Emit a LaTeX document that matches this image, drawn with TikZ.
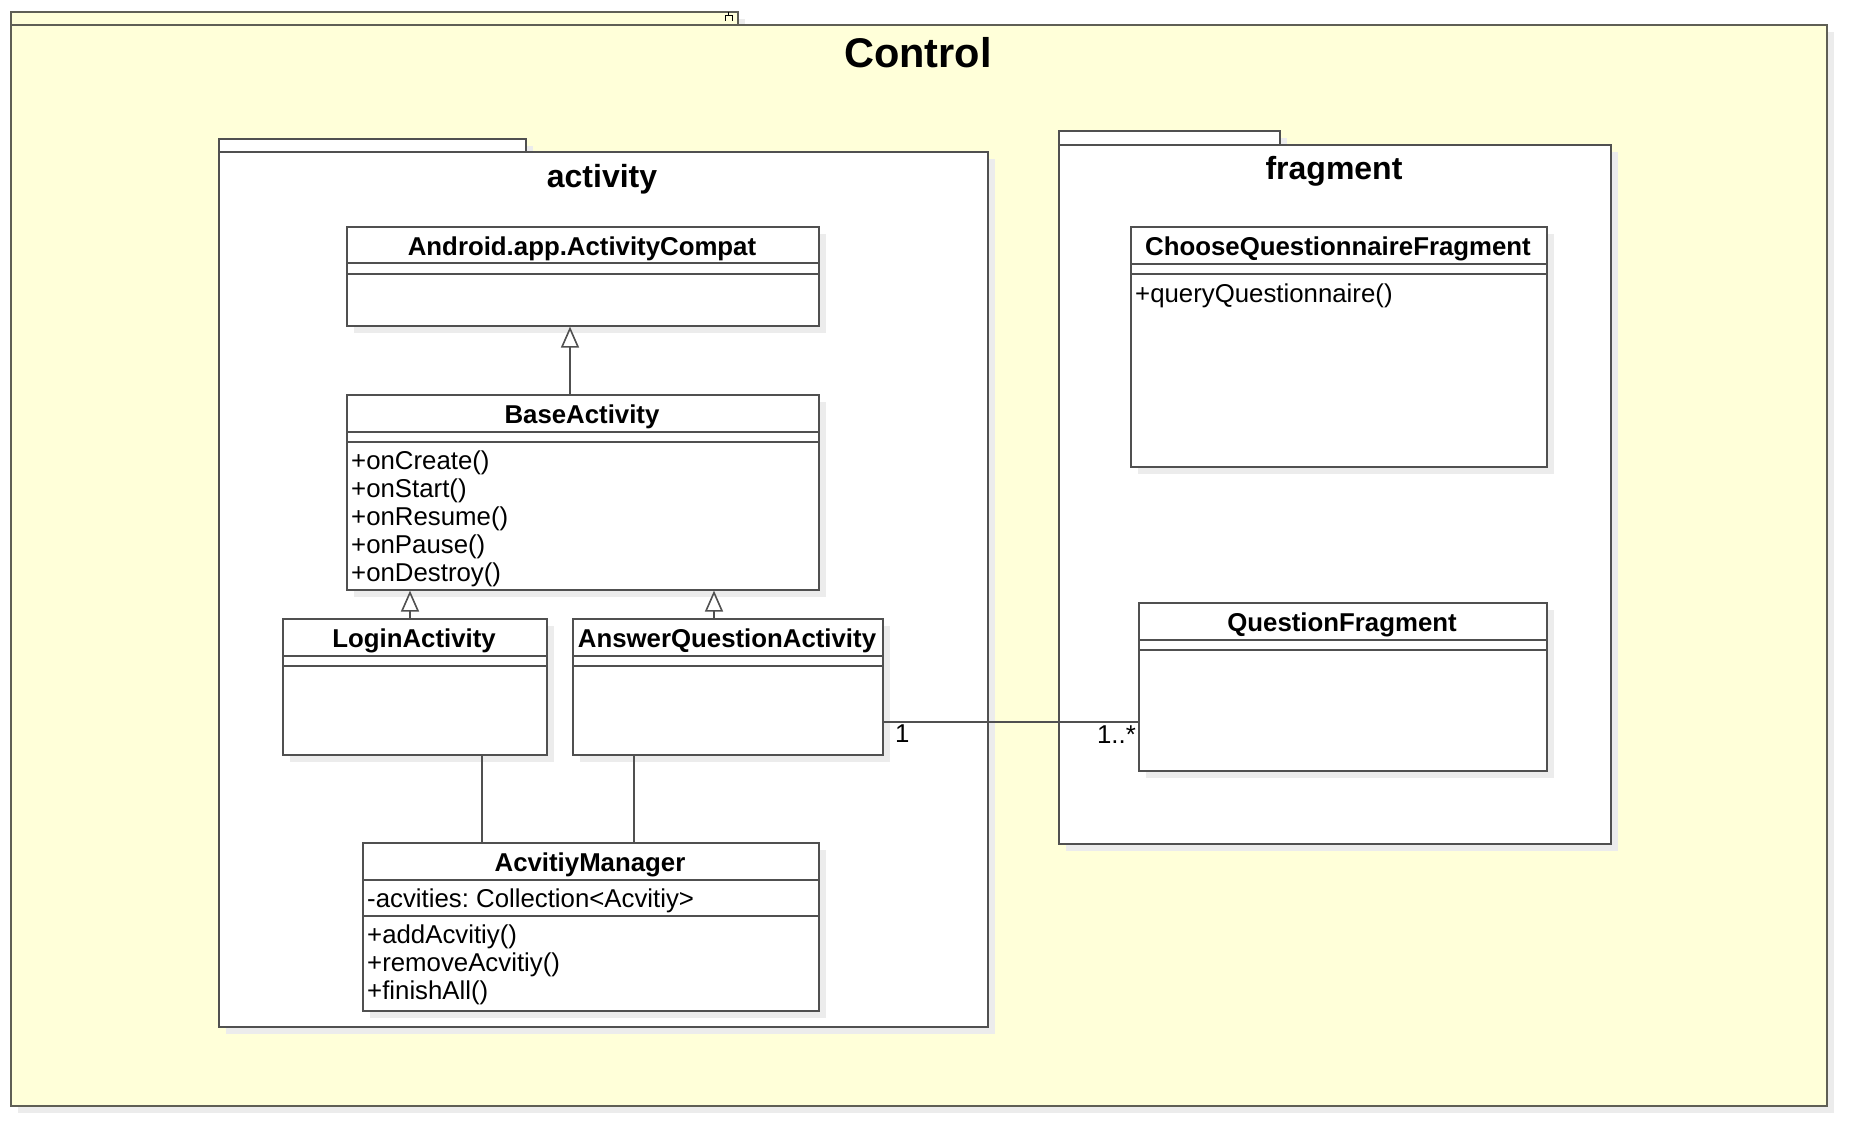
\documentclass[tikz,border=0pt]{standalone}
\usepackage{fontspec}
\setmainfont{Liberation Sans}
\usetikzlibrary{arrows.meta,calc,shadows}
\definecolor{ctrlfill}{RGB}{255,255,217}
\definecolor{edgecol}{RGB}{80,80,80}
\definecolor{ctrledge}{RGB}{95,95,85}
\definecolor{shadecol}{RGB}{236,236,236}
\newcommand\clsfont{\fontsize{25.8}{28}\selectfont}
\frenchspacing
\begin{document}
\begin{tikzpicture}[x=1pt,y=-1pt,
  shadowed/.style={general shadow={fill=shadecol, shadow xshift=7pt, shadow yshift=-7pt}},
  pkgbox/.style={draw=edgecol, line width=1.6pt, fill=white, anchor=north west, inner sep=0pt, shadowed},
  clsbox/.style={draw=edgecol, line width=1.6pt, fill=white, anchor=north west, inner sep=0pt, shadowed},
  sepline/.style={draw=edgecol, line width=1.6pt},
  clsname/.style={font=\clsfont\bfseries, anchor=base, inner sep=0pt},
  member/.style={font=\clsfont, anchor=base west, inner sep=0pt},
  mult/.style={font=\clsfont, inner sep=0pt},
  gen/.style={draw=edgecol, line width=1.6pt, -{Triangle[length=21pt, width=18pt, fill=white]}},
  assoc/.style={draw=edgecol, line width=1.6pt}
]
\useasboundingbox (0,0) rectangle (1866,1146);
\fill[white] (0,0) rectangle (1866,1146);

% ---------- Control package ----------
\node[pkgbox, fill=ctrlfill, draw=ctrledge, minimum width=727pt, minimum height=13pt] (ctrltab) at (10,11) {};
\node[pkgbox, fill=ctrlfill, draw=ctrledge, minimum width=1816pt, minimum height=1081pt] (ctrl) at (10,24) {};
\draw[black, line width=1pt] (728.5,12) -- (728.5,15) (725,15) -- (732,15) (725,15) -- (725,21) (732,15) -- (732,21);
\node[font=\fontsize{41.5}{45}\selectfont\bfseries, anchor=base, inner sep=0pt] (ctrltitle) at (918,67) {Control};

% ---------- activity package ----------
\node[pkgbox, minimum width=307pt, minimum height=13pt] (acttab) at (218,138) {};
\node[pkgbox, minimum width=769pt, minimum height=875pt] (act) at (218,151) {};
\node[font=\fontsize{32}{36}\selectfont\bfseries, anchor=base, inner sep=0pt] (acttitle) at (602,187.5) {activity};

% ---------- fragment package ----------
\node[pkgbox, minimum width=221pt, minimum height=14pt] (fragtab) at (1058,130) {};
\node[pkgbox, minimum width=552pt, minimum height=699pt] (frag) at (1058,144) {};
\node[font=\fontsize{32}{36}\selectfont\bfseries, anchor=base, inner sep=0pt] (fragtitle) at (1334,179.5) {fragment};

% ---------- classes ----------
% Android.app.ActivityCompat
\node[clsbox, minimum width=472pt, minimum height=99pt] (compat) at (346,226) {};
\draw[sepline] ($(compat.north west)+(0,37)$) -- ($(compat.north east)+(0,37)$);
\draw[sepline] ($(compat.north west)+(0,48)$) -- ($(compat.north east)+(0,48)$);
\node[clsname] (compatname) at (582,255) {Android.app.ActivityCompat};

% BaseActivity
\node[clsbox, minimum width=472pt, minimum height=195pt] (base) at (346,394) {};
\draw[sepline] ($(base.north west)+(0,38)$) -- ($(base.north east)+(0,38)$);
\draw[sepline] ($(base.north west)+(0,48)$) -- ($(base.north east)+(0,48)$);
\node[clsname] (basename) at (582,423) {BaseActivity};
\node[member] (baseop1) at (351,469) {+onCreate()};
\node[member] (baseop2) at (351,497) {+onStart()};
\node[member] (baseop3) at (351,525) {+onResume()};
\node[member] (baseop4) at (351,553) {+onPause()};
\node[member] (baseop5) at (351,581) {+onDestroy()};

% LoginActivity
\node[clsbox, minimum width=264pt, minimum height=136pt] (login) at (282,618) {};
\draw[sepline] ($(login.north west)+(0,38)$) -- ($(login.north east)+(0,38)$);
\draw[sepline] ($(login.north west)+(0,48)$) -- ($(login.north east)+(0,48)$);
\node[clsname] (loginname) at (414,647) {LoginActivity};

% AnswerQuestionActivity
\node[clsbox, minimum width=310pt, minimum height=136pt] (answer) at (572,618) {};
\draw[sepline] ($(answer.north west)+(0,38)$) -- ($(answer.north east)+(0,38)$);
\draw[sepline] ($(answer.north west)+(0,48)$) -- ($(answer.north east)+(0,48)$);
\node[clsname] (answername) at (727,647) {AnswerQuestionActivity};

% AcvitiyManager
\node[clsbox, minimum width=456pt, minimum height=168pt] (manager) at (362,842) {};
\draw[sepline] ($(manager.north west)+(0,38)$) -- ($(manager.north east)+(0,38)$);
\draw[sepline] ($(manager.north west)+(0,74)$) -- ($(manager.north east)+(0,74)$);
\node[clsname] (managername) at (590,871) {AcvitiyManager};
\node[member] (managerattr) at (367,907) {-acvities: Collection<Acvitiy>};
\node[member] (managerop1) at (367,943) {+addAcvitiy()};
\node[member] (managerop2) at (367,971) {+removeAcvitiy()};
\node[member] (managerop3) at (367,999) {+finishAll()};

% ChooseQuestionnaireFragment
\node[clsbox, minimum width=416pt, minimum height=240pt] (cqf) at (1130,226) {};
\draw[sepline] ($(cqf.north west)+(0,38)$) -- ($(cqf.north east)+(0,38)$);
\draw[sepline] ($(cqf.north west)+(0,48)$) -- ($(cqf.north east)+(0,48)$);
\node[clsname] (cqfname) at (1338,255) {ChooseQuestionnaireFragment};
\node[member] (cqfop1) at (1135,302) {+queryQuestionnaire()};

% QuestionFragment
\node[clsbox, minimum width=408pt, minimum height=168pt] (qf) at (1138,602) {};
\draw[sepline] ($(qf.north west)+(0,38)$) -- ($(qf.north east)+(0,38)$);
\draw[sepline] ($(qf.north west)+(0,48)$) -- ($(qf.north east)+(0,48)$);
\node[clsname] (qfname) at (1342,631) {QuestionFragment};

% ---------- connectors ----------
\draw[gen] ($(base.north west)+(224,0)$) -- ($(compat.south west)+(224,0)$);
\draw[gen] ($(login.north west)+(128,0)$) -- ($(base.south west)+(64,0)$);
\draw[gen] ($(answer.north west)+(142,0)$) -- ($(base.south west)+(368,0)$);
\draw[assoc] ($(login.south west)+(200,0)$) -- ($(manager.north west)+(120,0)$);
\draw[assoc] ($(answer.south west)+(62,0)$) -- ($(manager.north west)+(272,0)$);
\draw[assoc] ($(answer.north east)+(0,104)$) -- ($(qf.north west)+(0,120)$);
\node[mult, anchor=base west] (multone) at (895,742) {1};
\node[mult, anchor=base east] (multmany) at (1136,743) {1..*};
\end{tikzpicture}
\end{document}
